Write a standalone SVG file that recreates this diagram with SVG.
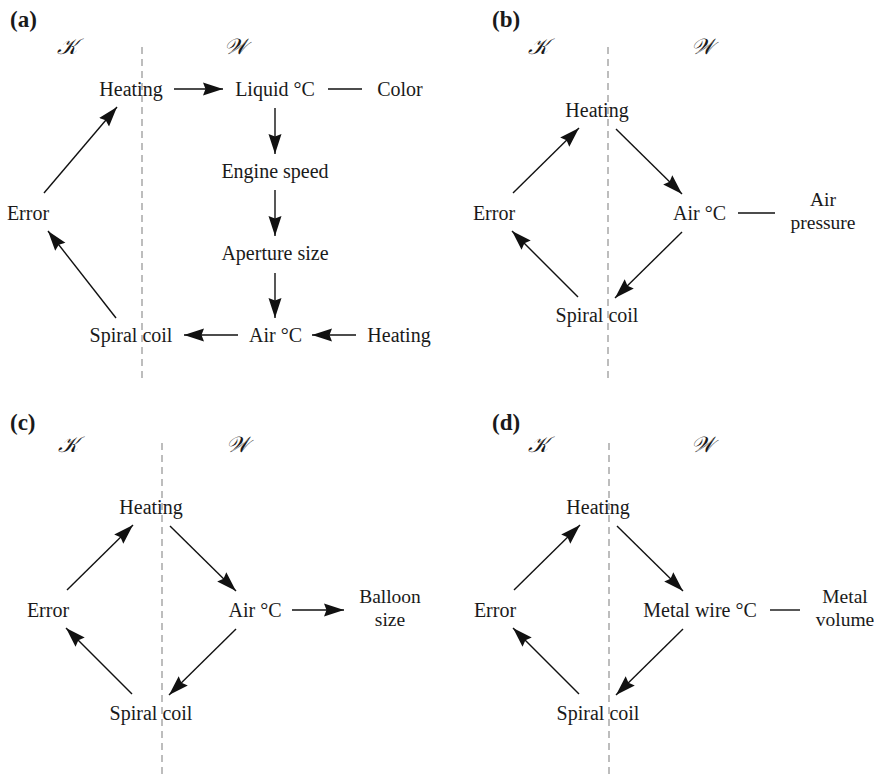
<svg xmlns="http://www.w3.org/2000/svg" width="880" height="777" viewBox="0 0 880 777">
<style>
text{font-family:"Liberation Serif","Times New Roman",serif;font-size:20px;fill:#1a1a1a;text-anchor:middle}
.two{font-size:19.5px}
.lbl{font-weight:bold;font-size:23px;text-anchor:start}
.scr{font-family:"DejaVu Serif","Noto Sans",serif;font-size:22px;font-style:italic}
.dash{stroke:#9a9a9a;stroke-width:1.3;stroke-dasharray:7,5;fill:none}
.arr{stroke:#111;stroke-width:1.4;fill:none;marker-end:url(#ah)}
.ln{stroke:#111;stroke-width:1.4;fill:none}
</style>
<defs>
<marker id="ah" markerUnits="userSpaceOnUse" markerWidth="21" markerHeight="14" refX="20" refY="7" orient="auto">
<path d="M0,0.5 L20,7 L0,13.5 L2.5,7 z" fill="#111"/>
</marker>
</defs>
<rect width="880" height="777" fill="#fff"/>

<!-- Panel (a) -->
<g id="panel-a">
<text class="lbl" x="10" y="27">(a)</text>
<text class="scr" x="67" y="54">𝒦</text>
<text class="scr" x="235" y="54">𝒲</text>
<line class="dash" x1="142" y1="47" x2="142" y2="382"/>
<g id="a-heating"><text x="131" y="96">Heating</text></g>
<g id="a-liquid"><text x="275" y="96">Liquid °C</text></g>
<g id="a-color"><text x="400" y="96">Color</text></g>
<g id="a-engine"><text x="275" y="178">Engine speed</text></g>
<g id="a-aperture"><text x="275" y="260">Aperture size</text></g>
<g id="a-air"><text x="275.5" y="342">Air °C</text></g>
<g id="a-heating2"><text x="399" y="342">Heating</text></g>
<g id="a-spiral"><text x="131" y="342">Spiral coil</text></g>
<g id="a-error"><text x="28" y="220">Error</text></g>
<g id="a-connectors">
<line class="arr" x1="174" y1="89" x2="223" y2="89"/>
<line class="ln" x1="328" y1="89" x2="362" y2="89"/>
<line class="arr" x1="275" y1="108" x2="275" y2="154"/>
<line class="arr" x1="275" y1="190" x2="275" y2="236"/>
<line class="arr" x1="275" y1="273" x2="275" y2="318"/>
<line class="arr" x1="356" y1="335" x2="312" y2="335"/>
<line class="arr" x1="238" y1="335" x2="184" y2="335"/>
<line class="arr" x1="116" y1="318" x2="48" y2="231"/>
<line class="arr" x1="44" y1="193" x2="117" y2="107"/>
</g>
</g>

<!-- Panel (b) -->
<g id="panel-b">
<text class="lbl" x="492" y="27">(b)</text>
<text class="scr" x="538" y="54">𝒦</text>
<text class="scr" x="702" y="54">𝒲</text>
<line class="dash" x1="608" y1="47" x2="608" y2="382"/>
<g id="b-heating"><text x="597" y="117">Heating</text></g>
<g id="b-error"><text x="494" y="220">Error</text></g>
<g id="b-air"><text x="699.5" y="220">Air °C</text></g>
<g id="b-spiral"><text x="597" y="322">Spiral coil</text></g>
<g id="b-pressure"><text class="two" x="823" y="206">Air</text><text class="two" x="823" y="228.5">pressure</text></g>
<g id="b-connectors">
<line class="arr" x1="513" y1="193" x2="579" y2="128"/>
<line class="arr" x1="616" y1="129" x2="682" y2="194"/>
<line class="arr" x1="578" y1="297" x2="512" y2="231"/>
<line class="arr" x1="682" y1="232" x2="615" y2="298"/>
<line class="ln" x1="738" y1="213" x2="775" y2="213"/>
</g>
</g>

<!-- Panel (c) -->
<g id="panel-c">
<text class="lbl" x="10" y="430">(c)</text>
<text class="scr" x="68" y="452">𝒦</text>
<text class="scr" x="237" y="452">𝒲</text>
<line class="dash" x1="162" y1="443" x2="162" y2="777"/>
<g id="c-heating"><text x="151" y="514">Heating</text></g>
<g id="c-error"><text x="48" y="617">Error</text></g>
<g id="c-air"><text x="255" y="617">Air °C</text></g>
<g id="c-spiral"><text x="151" y="720">Spiral coil</text></g>
<g id="c-balloon"><text class="two" x="390" y="603">Balloon</text><text class="two" x="390" y="625.5">size</text></g>
<g id="c-connectors">
<line class="arr" x1="67" y1="590" x2="133" y2="525"/>
<line class="arr" x1="170" y1="526" x2="236" y2="591"/>
<line class="arr" x1="132" y1="694" x2="66" y2="628"/>
<line class="arr" x1="236" y1="629" x2="169" y2="695"/>
<line class="arr" x1="292" y1="610" x2="344" y2="610"/>
</g>
</g>

<!-- Panel (d) -->
<g id="panel-d">
<text class="lbl" x="492" y="430">(d)</text>
<text class="scr" x="538" y="452">𝒦</text>
<text class="scr" x="702" y="452">𝒲</text>
<line class="dash" x1="609" y1="443" x2="609" y2="777"/>
<g id="d-heating"><text x="598" y="514">Heating</text></g>
<g id="d-error"><text x="495" y="617">Error</text></g>
<g id="d-metalwire"><text x="700" y="617">Metal wire °C</text></g>
<g id="d-spiral"><text x="598" y="720">Spiral coil</text></g>
<g id="d-volume"><text class="two" x="845" y="603">Metal</text><text class="two" x="845" y="625.5">volume</text></g>
<g id="d-connectors">
<line class="arr" x1="514" y1="590" x2="580" y2="525"/>
<line class="arr" x1="617" y1="526" x2="683" y2="591"/>
<line class="arr" x1="579" y1="694" x2="513" y2="628"/>
<line class="arr" x1="683" y1="629" x2="616" y2="695"/>
<line class="ln" x1="770" y1="610" x2="800" y2="610"/>
</g>
</g>
</svg>
